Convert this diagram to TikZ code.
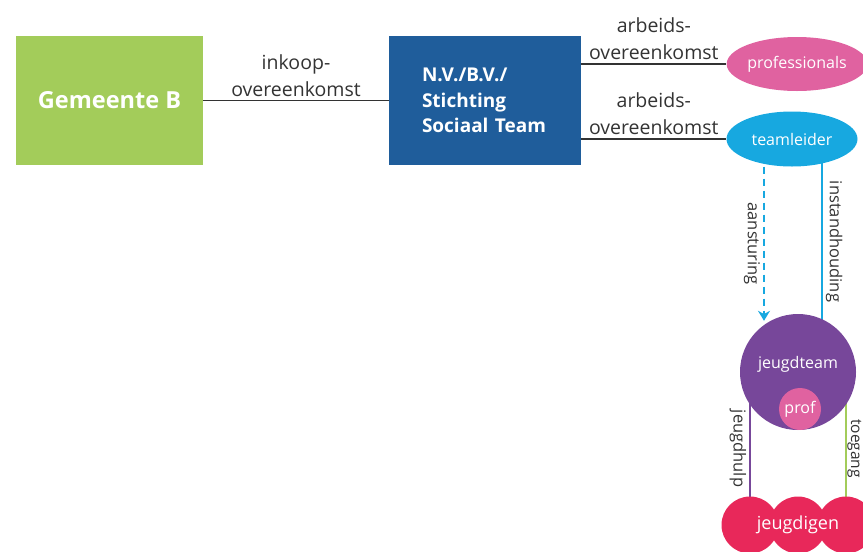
\documentclass[tikz,border=0pt]{standalone}
\usepackage{fontspec}
\setmainfont{Open Sans}
\usetikzlibrary{shapes,arrows.meta}
\usepackage{xcolor}
\definecolor{gemgroen}{HTML}{A3CC5A}
\definecolor{stblauw}{HTML}{1F5D9B}
\definecolor{profroze}{HTML}{E062A0}
\definecolor{teamcyaan}{HTML}{17A8E0}
\definecolor{jtpaars}{HTML}{77479A}
\definecolor{jgrood}{HTML}{E8285A}
\definecolor{lijngrijs}{HTML}{333333}
\pgfdeclarelayer{bg}
\pgfsetlayers{bg,main}

\begin{document}
\begin{tikzpicture}[x=1pt,y=-1pt,
  box/.style={rectangle,minimum height=129pt,text=white},
  ovaal/.style={ellipse,inner sep=0pt,text=white,font=\fontsize{16}{19}\selectfont},
  bol/.style={circle,inner sep=0pt,text=white},
  verb/.style={draw=lijngrijs,line width=1.3pt},
  tekst/.style={text=lijngrijs,align=center,font=\fontsize{19.5}{27}\selectfont},
  zij/.style={text=lijngrijs,inner sep=3pt,font=\fontsize{16.5}{20}\selectfont,rotate=-90}]
\useasboundingbox (0,0) rectangle (863,552);

\node [box,fill=gemgroen,minimum width=187pt,font=\bfseries\fontsize{23.5}{28}\selectfont] (gem) at (109.5,100.5) {Gemeente B};
\node [box,fill=stblauw,minimum width=192pt,text width=126pt,align=left,font=\bfseries\fontsize{19}{25.5}\selectfont] (st) at (485,100.5) {N.V./B.V./\\Stichting\\Sociaal Team};
\node [ovaal,fill=profroze,minimum width=130pt,minimum height=54pt] (prof) at (797,64) {professionals};
\node [ovaal,fill=teamcyaan,minimum width=131pt,minimum height=55pt] (team) at (792,139) {teamleider};
\node [bol,fill=jtpaars,minimum size=116pt] (jt) at (798,372) {};
\node [text=white,font=\fontsize{16}{19}\selectfont] (jtnaam) at (798,364) {jeugdteam};
\node [bol,fill=profroze,minimum size=42pt,font=\fontsize{16}{19}\selectfont] (pr) at (800,409) {prof};
\node [bol,fill=jgrood,minimum size=57pt] (jg1) at (750,525) {};
\node [bol,fill=jgrood,minimum size=57pt] (jg3) at (846,525) {};
\node [bol,fill=jgrood,minimum size=57pt,label={[text=white,font=\fontsize{18}{21}\selectfont]center:jeugdigen}] (jg2) at (798,525) {};

\draw [verb] (gem) -- node [tekst,above] {inkoop-\\overeenkomst} (st);
\draw [verb] (prof.west -| st.east) -- node [tekst,above] {arbeids-\\overeenkomst} (prof.west);
\draw [verb] (team.west -| st.east) -- node [tekst,above] {arbeids-\\overeenkomst} (team.west);

\draw [teamcyaan,line width=1.8pt,dash pattern=on 7pt off 5pt,-{Stealth[length=10pt,width=12pt]}] ([xshift=-28pt]team.south) -- node [zij,anchor=north] {aansturing} ([xshift=-34pt,yshift=-7pt]jt.north);

\begin{pgfonlayer}{bg}
\draw [teamcyaan,line width=1.8pt] ([xshift=30pt]team.center) -- node [zij,pos=.44,anchor=south] {instandhouding} ([xshift=24pt]jt.center);
\draw [jtpaars,line width=1.8pt] ([xshift=-48pt]jt.center) -- node [zij,anchor=north] {jeugdhulp} (jg1.center);
\draw [gemgroen,line width=1.8pt] ([xshift=48pt]jt.center) -- node [zij,inner sep=0.5pt,anchor=south,font=\fontsize{15.5}{18}\selectfont] {toegang} (jg3.center);
\end{pgfonlayer}
\end{tikzpicture}
\end{document}
